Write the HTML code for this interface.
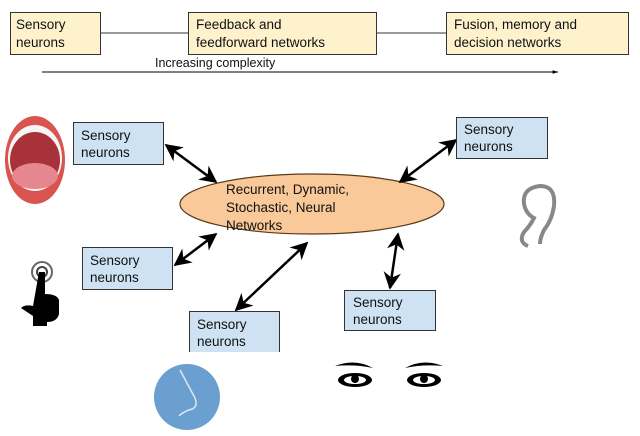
<!DOCTYPE html>
<html><head><style>
body{margin:0;background:#fff;}
svg text{font-family:"Liberation Sans",sans-serif;font-size:13.5px;fill:#111;}
</style></head><body>
<svg width="640" height="431" viewBox="0 0 640 431">
<defs>
<marker id="ah" viewBox="0 0 10 10" refX="9" refY="5" markerWidth="7" markerHeight="7" orient="auto-start-reverse"><path d="M0,0 L10,5 L0,10 L3,5 z" fill="#000"/></marker>
<marker id="sm" viewBox="0 0 10 10" refX="9" refY="5" markerWidth="8" markerHeight="6" orient="auto"><path d="M0,2 L10,5 L0,8 z" fill="#000"/></marker>
</defs>
<line x1="100" y1="33" x2="446" y2="33" stroke="#333" stroke-width="1"/>
<rect x="10.5" y="12.5" width="90" height="42" fill="#fdf2cc" stroke="#333"/>
<rect x="188.5" y="12.5" width="188" height="42" fill="#fdf2cc" stroke="#333"/>
<rect x="446.5" y="12.5" width="182" height="42" fill="#fdf2cc" stroke="#333"/>
<text x="16" y="29">Sensory</text><text x="16" y="47">neurons</text>
<text x="196" y="29">Feedback and</text><text x="196" y="47">feedforward networks</text>
<text x="454" y="29">Fusion, memory and</text><text x="454" y="47">decision networks</text>
<line x1="42" y1="72" x2="558" y2="72" stroke="#000" stroke-width="1" marker-end="url(#sm)"/>
<text x="155" y="67" style="font-size:12.5px">Increasing complexity</text>

<ellipse cx="312" cy="204" rx="132" ry="30" fill="#f9c99a" stroke="#5a3a1a" stroke-width="1.2"/>
<text x="226" y="194">Recurrent, Dynamic,</text>
<text x="226" y="212">Stochastic, Neural</text>
<text x="226" y="230">Networks</text>

<g stroke="#000" stroke-width="2.5" marker-start="url(#ah)" marker-end="url(#ah)">
<line x1="166" y1="145" x2="216" y2="182"/>
<line x1="175" y1="265" x2="216" y2="234"/>
<line x1="236" y1="310" x2="307" y2="243"/>
<line x1="456" y1="140" x2="400" y2="182"/>
<line x1="398" y1="234" x2="390" y2="288"/>
</g>

<g fill="#cfe2f3" stroke="#333">
<rect x="73.5" y="122.5" width="90" height="42"/>
<rect x="82.5" y="247.5" width="90" height="42"/>
<path d="M189.5,352 V311.5 H279.5 V352"/>
<rect x="456.5" y="117.5" width="91" height="41"/>
<rect x="344.5" y="290.5" width="91" height="40"/>
</g>
<text x="81" y="140">Sensory</text><text x="81" y="157">neurons</text>
<text x="90" y="265">Sensory</text><text x="90" y="282">neurons</text>
<text x="197" y="329">Sensory</text><text x="197" y="346">neurons</text>
<text x="464" y="134">Sensory</text><text x="464" y="151">neurons</text>
<text x="353" y="307">Sensory</text><text x="353" y="324">neurons</text>

<!-- mouth -->
<ellipse cx="35" cy="160" rx="30" ry="44" fill="#d9534f"/>
<ellipse cx="35" cy="158" rx="27" ry="33" fill="#f5f5f5"/>
<ellipse cx="35" cy="160" rx="25" ry="28" fill="#a8323a"/>
<ellipse cx="35" cy="176" rx="23" ry="13" fill="#e6868e"/>
<!-- hand -->
<circle cx="42" cy="272" r="10" fill="none" stroke="#666" stroke-width="2"/>
<circle cx="42" cy="272" r="5" fill="none" stroke="#444" stroke-width="2"/>
<path d="M39,272 h6 v22 q12,0 14,6 v14 q-2,8 -12,8 v4 h-14 v-10 l-12,-8 q4,-4 12,-2 z" fill="#000"/>
<!-- nose -->
<circle cx="187" cy="397" r="33" fill="#6a9fcf"/>
<path d="M180,370 q8,15 15,28 q4,10 -6,12 q-6,2 -10,6" fill="none" stroke="#dde8f4" stroke-width="1.5"/>
<!-- ear -->
<path d="M528,246 q-10,-4 -4,-14 q6,-6 10,-14 q-8,-4 -10,-14 q-2,-16 16,-18 q16,0 14,20 q-2,14 -10,24 q-4,8 -4,14" fill="none" stroke="#888" stroke-width="4"/>
<!-- eyes -->
<g fill="#000">
<path d="M335,366 q20,-8 38,2 q-18,-4 -38,-2z"/>
<ellipse cx="355" cy="380" rx="17" ry="7"/>
<path d="M405,368 q18,-10 38,-2 q-20,-2 -38,2z"/>
<ellipse cx="424" cy="380" rx="17" ry="7"/>
</g>
<ellipse cx="355" cy="380" rx="11" ry="4" fill="#fff"/><circle cx="355" cy="379" r="4" fill="#000"/>
<ellipse cx="424" cy="380" rx="11" ry="4" fill="#fff"/><circle cx="424" cy="379" r="4" fill="#000"/>
</svg>
</body></html>
